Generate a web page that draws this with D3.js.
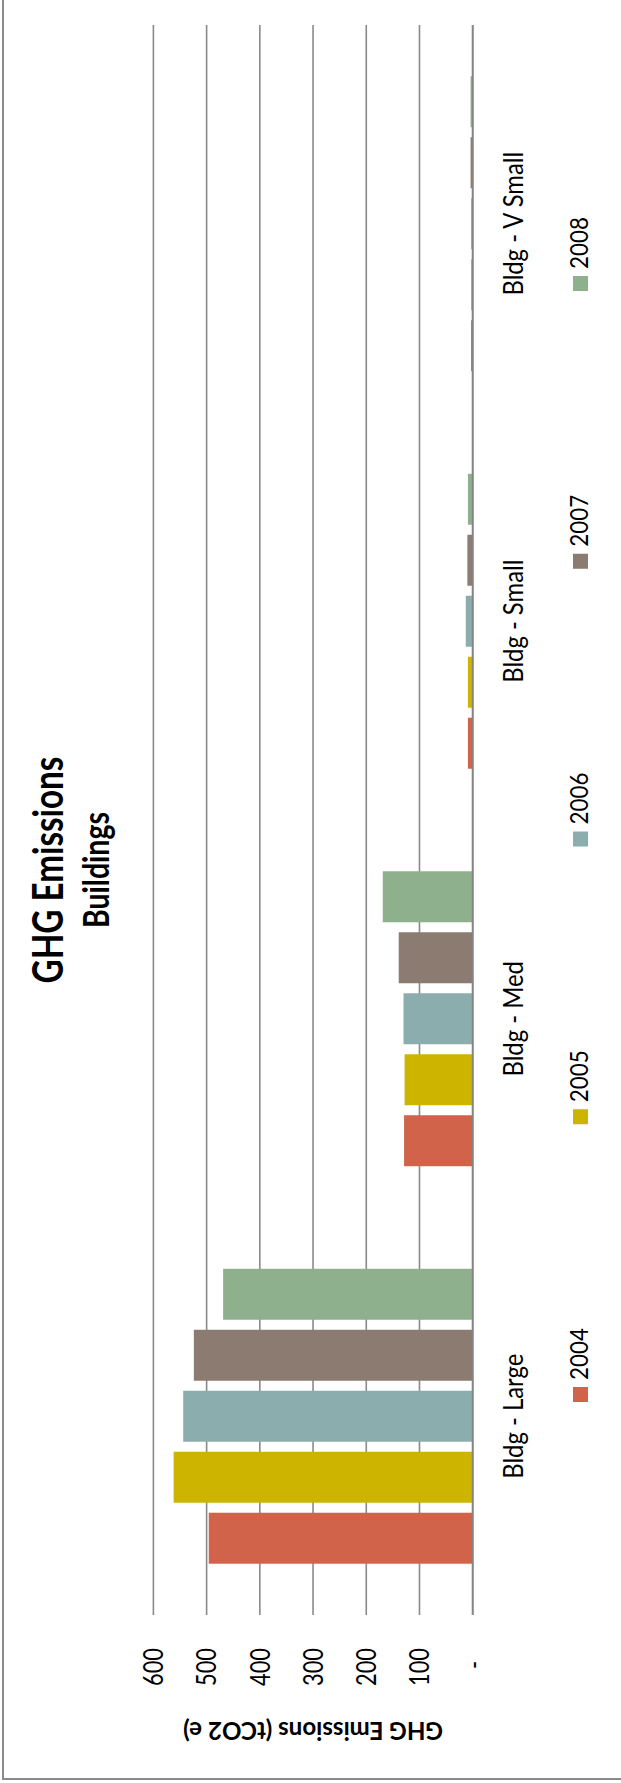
<!DOCTYPE html>
<html>
<head>
<meta charset="utf-8">
<script src="https://cdn.jsdelivr.net/npm/d3@7"></script>
<style>
  html, body { margin: 0; padding: 0; background: #fff; }
  svg { display: block; }
  text { font-family: Lato, "Open Sans", sans-serif; fill: #000; }
</style>
</head>
<body>
<svg id="chart" width="621" height="1783"></svg>
<script>
// ---- data ----
const categories = ["Bldg - Large", "Bldg - Med", "Bldg - Small", "Bldg - V Small"];
const seriesNames = ["2004", "2005", "2006", "2007", "2008"];
const values2004 = [496, 129, 9, 3];
const values2005 = [562, 128, 9, 3];
const values2006 = [544, 130, 13, 3];
const values2007 = [524, 139, 10, 4];
const values2008 = [469, 169, 9, 4];
const tickValues = [0, 100, 200, 300, 400, 500, 600];
const tickLabels = ["-", "100", "200", "300", "400", "500", "600"];
const titleLine1 = "GHG Emissions";
const titleLine2 = "Buildings";
const axisTitle = "GHG Emissions (tCO2 e)";

const seriesValues = [values2004, values2005, values2006, values2007, values2008];
const colors = ["#D1634A", "#CDB400", "#8CADAE", "#8C7B70", "#8FB08C"];

const svg = d3.select("#chart");

// helper: fit font size so text reaches target length
function fitSize(sample, target, weight) {
  const t = svg.append("text").attr("font-size", 100).attr("font-weight", weight || "normal").text(sample);
  const len = t.node().getComputedTextLength();
  t.remove();
  return 100 * target / len;
}

// border (only left and bottom edges visible in the frame)
svg.append("rect")
  .attr("x", 3).attr("y", -20).attr("width", 700).attr("height", 1799)
  .attr("fill", "none").attr("stroke", "#8a8a8a").attr("stroke-width", 2);

// scales
const x = d3.scaleLinear().domain([0, 600]).range([472.7, 153.4]);
const y = d3.scaleBand().domain(categories).range([1615, 25]).paddingInner(0.258).paddingOuter(0.129);
const yInner = d3.scaleBand().domain(seriesNames).range([y.bandwidth(), 0]).paddingInner(0.164).paddingOuter(0);

// gridlines
svg.append("g").selectAll("line").data(tickValues).join("line")
  .attr("x1", d => x(d)).attr("x2", d => x(d))
  .attr("y1", 25).attr("y2", 1615)
  .attr("stroke", "#8a8a8a").attr("stroke-width", 1.6);

// bars
const groups = svg.append("g").selectAll("g").data(categories).join("g")
  .attr("transform", d => `translate(0,${y(d)})`);
groups.selectAll("rect")
  .data((c, ci) => seriesNames.map((s, si) => ({ s, si, v: seriesValues[si][ci] })))
  .join("rect")
  .attr("x", d => x(d.v))
  .attr("width", d => x(0) - x(d.v))
  .attr("y", d => yInner(d.s))
  .attr("height", yInner.bandwidth())
  .attr("fill", d => colors[d.si]);

// axis line on top
svg.append("line")
  .attr("x1", x(0)).attr("x2", x(0)).attr("y1", 25).attr("y2", 1615)
  .attr("stroke", "#868686").attr("stroke-width", 1.8);

// tick labels (glyphs slightly stretched across the page, as in the reference)
const tickK = 1.25;
const tickSize = fitSize("600", 38);
const tickCap = tickSize * 0.72 * tickK;
svg.append("g").selectAll("text").data(tickValues).join("text")
  .attr("font-size", tickSize)
  .attr("text-anchor", (d, i) => tickLabels[i] === "-" ? "middle" : "end")
  .attr("transform", (d, i) => tickLabels[i] === "-"
      ? `translate(${x(d) + tickCap / 2},1665) rotate(-90) scale(1,${tickK})`
      : `translate(${x(d) + tickCap / 2},1648) rotate(-90) scale(1,${tickK})`)
  .text((d, i) => tickLabels[i]);

// axis title (upside down)
const axSize = fitSize(axisTitle, 260, "bold");
svg.append("text")
  .attr("font-size", axSize).attr("font-weight", "bold")
  .attr("text-anchor", "middle")
  .attr("transform", `translate(${(x(0) + x(600)) / 2},1722) rotate(180)`)
  .text(axisTitle);

// category labels
const catK = 1.1;
const catSize = fitSize("Bldg - Large", 125);
svg.append("g").selectAll("text").data(categories).join("text")
  .attr("font-size", catSize)
  .attr("text-anchor", "middle")
  .attr("transform", d => `translate(523,${y(d) + y.bandwidth() / 2}) rotate(-90) scale(1,${catK})`)
  .text(d => d);

// legend
const legK = 1.12;
const legY = d3.scalePoint().domain(seriesNames).range([1402, 291]);
const legSize = fitSize("2004", 52);
const leg = svg.append("g").selectAll("g").data(seriesNames).join("g");
leg.append("rect")
  .attr("x", 573).attr("y", d => legY(d) - 15)
  .attr("width", 15).attr("height", 15)
  .attr("fill", (d, i) => colors[i]);
leg.append("text")
  .attr("font-size", legSize)
  .attr("transform", d => `translate(588,${legY(d) - 22}) rotate(-90) scale(1,${legK})`)
  .text(d => d);

// title
const titleK = 1.25;
const t1Size = fitSize(titleLine1, 227, "bold");
svg.append("text")
  .attr("font-size", t1Size).attr("font-weight", "bold")
  .attr("text-anchor", "middle")
  .attr("transform", `translate(63,870) rotate(-90) scale(1,${titleK})`)
  .text(titleLine1);
const t2Size = fitSize(titleLine2, 116, "bold");
svg.append("text")
  .attr("font-size", t2Size).attr("font-weight", "bold")
  .attr("text-anchor", "middle")
  .attr("transform", `translate(109,870) rotate(-90) scale(1,${titleK})`)
  .text(titleLine2);
</script>
</body>
</html>
